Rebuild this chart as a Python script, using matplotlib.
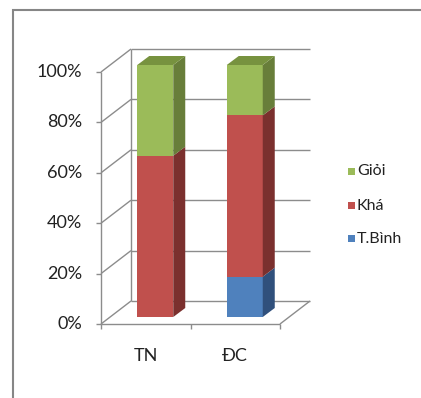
import numpy as np
import matplotlib.pyplot as plt
from matplotlib.patches import Polygon, Rectangle

categories = ["TN", "ĐC"]
series_names = ["T.Bình", "Khá", "Giỏi"]
tbinh = [0, 16]
kha = [64, 64]
gioi = [36, 20]
y_ticks = [0, 20, 40, 60, 80, 100]
y_labels = ["0%", "20%", "40%", "60%", "80%", "100%"]

front_colors = ["#4F81BD", "#C0504D", "#9BBB59"]
side_colors = ["#30507C", "#7B302E", "#687E3A"]
top_colors = ["#3F6797", "#9A403D", "#77923F"]
grid_color = "#8C8C8C"

plt.rcParams["font.family"] = ["Lato", "DejaVu Sans"]

W, H = 421, 398
fig = plt.figure(figsize=(W / 100, H / 100), dpi=100)

# front plane of the 3d box, in pixels
left, right, bottom, top = 101, 280, 324, 72
ax = fig.add_axes([left / W, (H - bottom) / H, (right - left) / W, (bottom - top) / H])
ax.set_xlim(0, len(categories))
ax.set_ylim(0, 100)
ax.axis("off")

px_x = (right - left) / len(categories)
px_y = (bottom - top) / 100.0


def off(dx, dy):
    # pixel offset -> data offset
    return dx / px_x, dy / px_y


back_dx, back_dy = off(30, 23)
front_dx, front_dy = off(9.5, 7)
depth_dx, depth_dy = off(12, 9)
bar_w = 36 / px_x

kw = dict(color=grid_color, lw=1.0, clip_on=False, solid_capstyle="butt")

# back wall, side wall diagonals, floor
for y in y_ticks:
    ax.plot([back_dx, len(categories) + back_dx], [y + back_dy, y + back_dy], **kw)
    ax.plot([0, back_dx], [y, y + back_dy], **kw)
ax.plot([back_dx, back_dx], [back_dy, 100 + back_dy], **kw)
ax.plot([len(categories), len(categories) + back_dx], [0, back_dy], **kw)

# front axes
ax.plot([0, 0], [0, 100], **kw)
ax.plot([0, len(categories)], [0, 0], **kw)
tick_x = 5 / px_x
tick_y = 5 / px_y
for y, lab in zip(y_ticks, y_labels):
    ax.plot([-tick_x, 0], [y, y], **kw)
    ax.text(-19 / px_x, y, lab, ha="right", va="center", fontsize=13, color="#222222")
for i in range(len(categories) + 1):
    ax.plot([i, i], [0, -tick_y], **kw)
for i, cat in enumerate(categories):
    ax.text(i + 0.5, -32 / px_y, cat, ha="center", va="center", fontsize=13, color="#222222")

# stacked 3d bars
stack = np.array([tbinh, kha, gioi], dtype=float)
for i in range(len(categories)):
    x0 = i + 0.5 - bar_w / 2 + front_dx
    x1 = x0 + bar_w
    base = front_dy
    top_seg = max(k for k in range(len(stack)) if stack[k, i] > 0)
    for k in range(len(stack)):
        h = stack[k, i]
        if h <= 0:
            continue
        y0, y1 = base, base + h
        ax.add_patch(Rectangle((x0, y0), bar_w, h, facecolor=front_colors[k],
                               edgecolor="none", clip_on=False, zorder=3))
        ax.add_patch(Polygon([(x1, y0), (x1, y1), (x1 + depth_dx, y1 + depth_dy),
                              (x1 + depth_dx, y0 + depth_dy)], closed=True,
                             facecolor=side_colors[k], edgecolor="none",
                             clip_on=False, zorder=3))
        if k == top_seg:
            ax.add_patch(Polygon([(x0, y1), (x1, y1), (x1 + depth_dx, y1 + depth_dy),
                                  (x0 + depth_dx, y1 + depth_dy)], closed=True,
                                 facecolor=top_colors[k], edgecolor="none",
                                 clip_on=False, zorder=3))
        base = y1

# legend
leg_y = [171, 205.5, 239]
for k, name in enumerate(reversed(series_names)):
    idx = len(series_names) - 1 - k
    fig.patches.append(Rectangle((348 / W, 1 - (leg_y[k] + 3.5) / H), 7 / W, 7 / H,
                                 facecolor=front_colors[idx], edgecolor="none",
                                 transform=fig.transFigure))
    fig.text(357 / W, 1 - leg_y[k] / H, name, ha="left", va="center",
             fontsize=11.5, color="#222222")

# chart border
fig.patches.append(Rectangle((13 / W, -0.05), 1.0, 1 - 10 / H + 0.05, fill=False,
                             edgecolor="#868686", lw=1.5, transform=fig.transFigure))

fig.savefig("out.png", dpi=100)
